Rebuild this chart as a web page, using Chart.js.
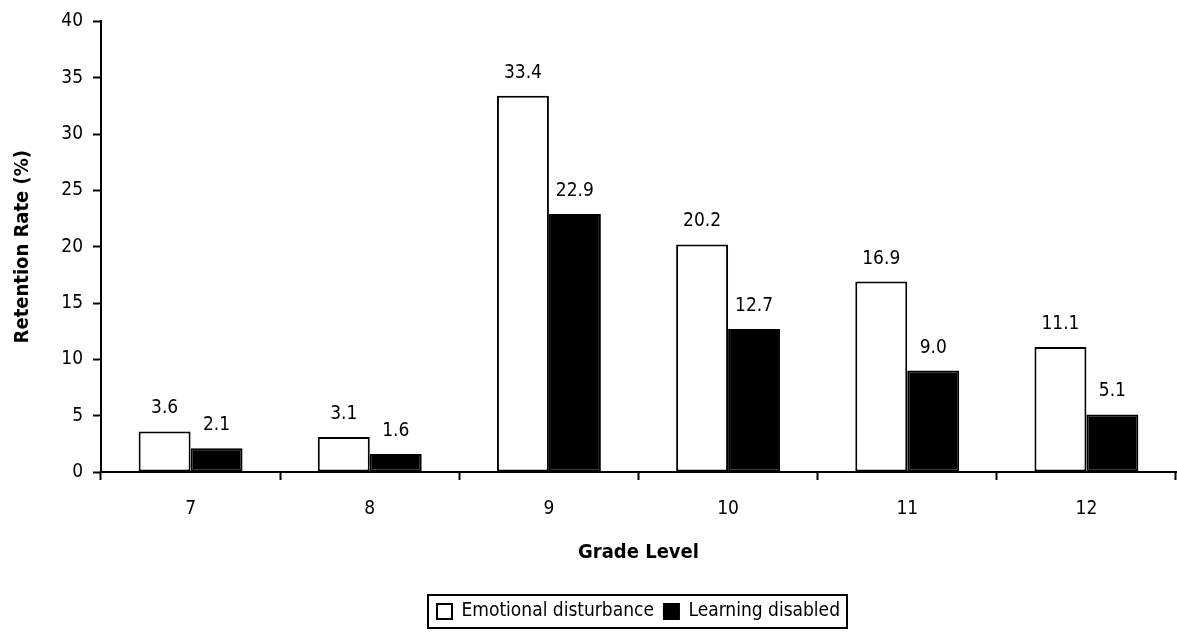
<!DOCTYPE html>
<html>
<head>
<meta charset="utf-8">
<script src="https://cdn.jsdelivr.net/npm/chart.js@4.4.1/dist/chart.umd.min.js"></script>
<style>
  html, body { margin: 0; padding: 0; background: #fff; }
  #wrap { width: 1177px; height: 637px; }
</style>
</head>
<body>
<div id="wrap"><canvas id="myChart" width="1177" height="637"></canvas></div>
<script>
const grades = ['7', '8', '9', '10', '11', '12'];
const emotional = [3.6, 3.1, 33.4, 20.2, 16.9, 11.1];
const learning = [2.1, 1.6, 22.9, 12.7, 9.0, 5.1];
const yTicks = [0, 5, 10, 15, 20, 25, 30, 35, 40];

const narrow = "'Liberation Sans Narrow', 'Arial Narrow', 'DejaVu Sans Condensed', sans-serif";
Chart.defaults.color = '#000';
Chart.defaults.font.family = narrow;

// value labels above each bar
const barLabels = {
    id: 'barLabels',
    afterDatasetsDraw(chart) {
        const ctx = chart.ctx;
        ctx.save();
        ctx.font = '19px ' + narrow;
        ctx.fillStyle = '#000';
        ctx.textAlign = 'center';
        ctx.textBaseline = 'middle';
        chart.data.datasets.forEach((ds, i) => {
            chart.getDatasetMeta(i).data.forEach((bar, j) => {
                ctx.fillText(ds.data[j].toFixed(1), bar.x, bar.y - 23);
            });
        });
        ctx.restore();
    }
};

// centre the legend under the plot and draw a border round it
const legendBox = {
    id: 'legendBox',
    afterLayout(chart) {
        chart.legend.left = chart.chartArea.left;
        chart.legend.right = chart.chartArea.right;
    },
    afterDraw(chart) {
        const boxes = chart.legend.legendHitBoxes;
        if (!boxes || !boxes.length) return;
        let l = Infinity, r = -Infinity, t = Infinity, b = -Infinity;
        boxes.forEach(h => {
            l = Math.min(l, h.left); r = Math.max(r, h.left + h.width);
            t = Math.min(t, h.top); b = Math.max(b, h.top + h.height);
        });
        const ctx = chart.ctx;
        ctx.save();
        ctx.strokeStyle = '#000';
        ctx.lineWidth = 2;
        ctx.strokeRect(l - 9, t - 7, r - l + 16, b - t + 14);
        ctx.restore();
    }
};

const ctx = document.getElementById('myChart').getContext('2d');
let myChart = new Chart(ctx, {
    type: 'bar',
    data: {
        labels: grades,
        datasets: [{
            label: 'Emotional disturbance',
            data: emotional,
            backgroundColor: '#fff',
            borderColor: '#000',
            borderWidth: 2,
            borderSkipped: false,
        }, {
            label: 'Learning disabled',
            data: learning,
            backgroundColor: '#000',
            borderColor: '#000',
            borderWidth: 2,
            borderSkipped: false,
        }]
    },
    options: {
        responsive: false,
        animation: false,
        devicePixelRatio: 1,
        layout: {
            padding: { left: 0, right: 1, top: 10, bottom: 6 }
        },
        plugins: {
            legend: {
                position: 'bottom',
                labels: {
                    boxWidth: 15,
                    boxHeight: 15,
                    padding: 10,
                    font: { size: 19, family: narrow },
                    color: '#000',
                }
            },
            tooltip: { enabled: false }
        },
        datasets: {
            bar: { categoryPercentage: 0.58, barPercentage: 1.0 }
        },
        scales: {
            x: {
                offset: true,
                grid: {
                    offset: true,
                    drawOnChartArea: false,
                    drawTicks: true,
                    tickLength: 8,
                    tickWidth: 2,
                    tickColor: '#000',
                },
                border: { color: '#000', width: 2 },
                ticks: {
                    font: { size: 19, family: narrow },
                    color: '#000',
                    padding: 18,
                },
                title: {
                    display: true,
                    text: 'Grade Level',
                    font: { size: 20, weight: 'bold', family: narrow },
                    color: '#000',
                    padding: { top: 14, bottom: 27 },
                },
                afterFit: s => { s.height = 120; }
            },
            y: {
                min: 0,
                max: 40,
                afterBuildTicks: s => { s.ticks = yTicks.map(v => ({ value: v })); },
                grid: {
                    drawOnChartArea: false,
                    drawTicks: true,
                    tickLength: 8,
                    tickWidth: 2,
                    tickColor: '#000',
                },
                border: { color: '#000', width: 2 },
                ticks: {
                    font: { size: 19, family: narrow },
                    color: '#000',
                    padding: 10,
                },
                title: {
                    display: true,
                    text: 'Retention Rate (%)',
                    font: { size: 20, weight: 'bold', family: narrow },
                    color: '#000',
                    padding: { top: 11, bottom: 0 },
                },
                afterFit: s => { s.width = 101; }
            }
        }
    },
    plugins: [barLabels, legendBox]
});
</script>
</body>
</html>
